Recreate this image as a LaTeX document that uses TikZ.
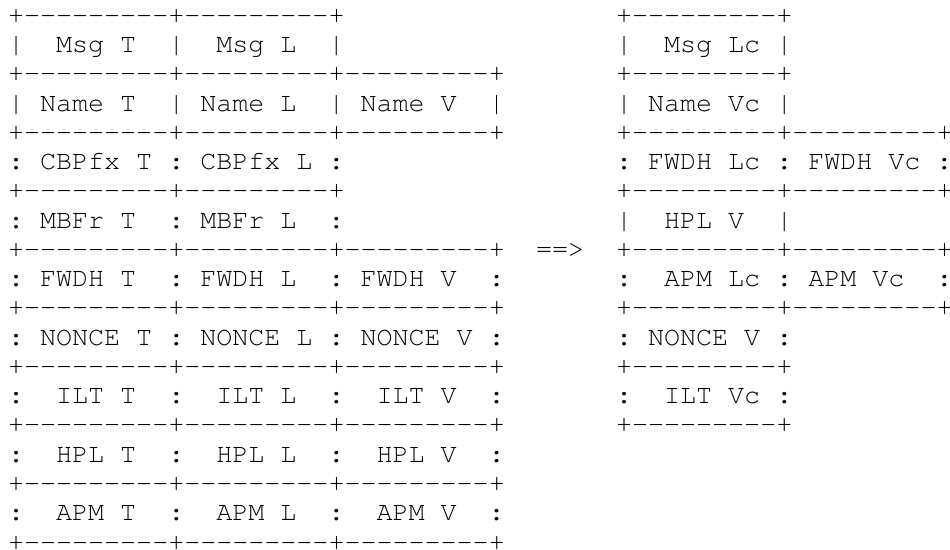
\documentclass[tikz,border=0pt]{standalone}
\usepackage[T1]{fontenc}
\usepackage{courier}

% nine hyphens kept apart, so that no -- or --- ligature forms
\newcommand\cellline{-{}-{}-{}-{}-{}-{}-{}-{}-}

\begin{document}
\begin{tikzpicture}[
    x=0.02cm, y=-0.02cm,
    ascii/.style={anchor=base west, inner sep=0pt, text depth=0pt, font=\ttfamily\fontsize{15.2pt}{18pt}\selectfont}
]
    \useasboundingbox (0,0) rectangle (950,550);

    % Full header, one line of the table per node
    \foreach \row [count=\i] in {
        {+\cellline+\cellline+},
        {|~~Msg~T~~|~~Msg~L~~|},
        {+\cellline+\cellline+\cellline+},
        {|~Name~T~~|~Name~L~~|~Name~V~~|},
        {+\cellline+\cellline+\cellline+},
        {:~CBPfx~T~:~CBPfx~L~:},
        {+\cellline+\cellline+},
        {:~MBFr~T~~:~MBFr~L~~:},
        {+\cellline+\cellline+\cellline+},
        {:~FWDH~T~~:~FWDH~L~~:~FWDH~V~~:},
        {+\cellline+\cellline+\cellline+},
        {:~NONCE~T~:~NONCE~L~:~NONCE~V~:},
        {+\cellline+\cellline+\cellline+},
        {:~~ILT~T~~:~~ILT~L~~:~~ILT~V~~:},
        {+\cellline+\cellline+\cellline+},
        {:~~HPL~T~~:~~HPL~L~~:~~HPL~V~~:},
        {+\cellline+\cellline+\cellline+},
        {:~~APM~T~~:~~APM~L~~:~~APM~V~~:},
        {+\cellline+\cellline+\cellline+}}
        \node[ascii] (old\i) at (7.7, {23.5+29.25*(\i-1)}) {\row};

    % Compressed header
    \foreach \row [count=\i] in {
        {+\cellline+},
        {|~~Msg~Lc~|},
        {+\cellline+},
        {|~Name~Vc~|},
        {+\cellline+\cellline+},
        {:~FWDH~Lc~:~FWDH~Vc~:},
        {+\cellline+\cellline+},
        {|~~HPL~V~~|},
        {+\cellline+\cellline+},
        {:~~APM~Lc~:~APM~Vc~~:},
        {+\cellline+\cellline+},
        {:~NONCE~V~:},
        {+\cellline+},
        {:~~ILT~Vc~:},
        {+\cellline+}}
        \node[ascii] (new\i) at (615.7, {23.5+29.25*(\i-1)}) {\row};

    % Arrow between the two
    \node[ascii] (conv) at (535.7, {23.5+29.25*8}) {==>};

\end{tikzpicture}
\end{document}
